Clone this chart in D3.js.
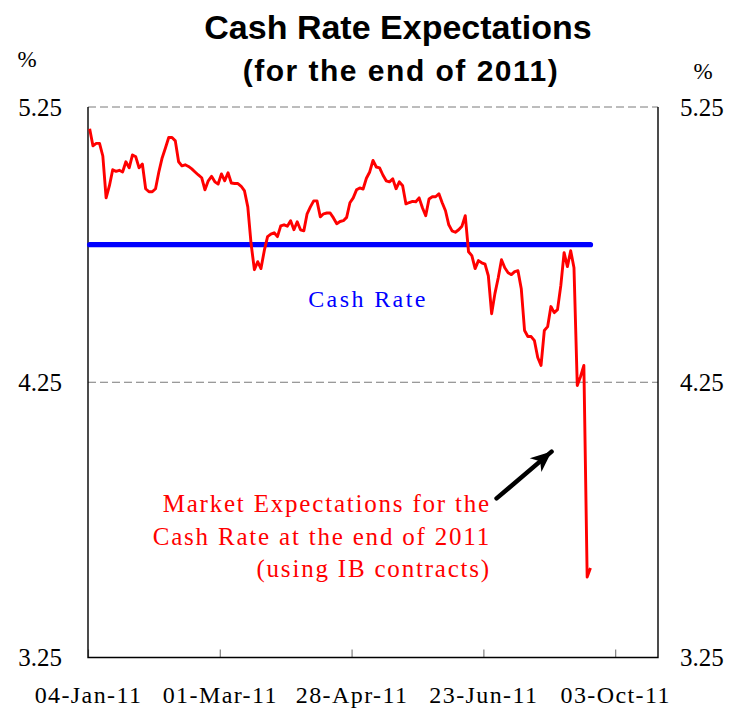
<!DOCTYPE html>
<html>
<head>
<meta charset="utf-8">
<script src="https://cdn.jsdelivr.net/npm/d3@7/dist/d3.min.js"></script>
<style>
    body { margin: 0; background: #fff; }
    svg { display: block; }
</style>
</head>
<body>
<svg></svg>
<script>
// trading-day category axis
const dayLabels = ["04-Jan-11", "01-Mar-11", "28-Apr-11", "23-Jun-11", "03-Oct-11"];
const labelDays = [0, 40, 80, 120, 160];
const totalDays = 173;

// market expectations for the cash rate at end-2011 (%), one value per trading day
const expectations = [
    5.171, 5.109, 5.118, 5.118, 5.072, 4.920, 4.964, 5.022, 5.016, 5.020,
    5.014, 5.051, 5.029, 5.076, 5.069, 5.029, 5.043, 4.953, 4.942, 4.942,
    4.953, 5.014, 5.065, 5.101, 5.139, 5.139, 5.127, 5.051, 5.036, 5.040,
    5.034, 5.025, 5.014, 5.003, 4.993, 4.949, 4.982, 4.998, 4.978, 4.970,
    5.007, 4.982, 5.011, 4.974, 4.972, 4.972, 4.962, 4.945, 4.887, 4.753,
    4.659, 4.688, 4.663, 4.728, 4.779, 4.788, 4.793, 4.779, 4.818, 4.822,
    4.817, 4.837, 4.804, 4.833, 4.804, 4.800, 4.862, 4.887, 4.909, 4.909,
    4.851, 4.862, 4.865, 4.865, 4.847, 4.826, 4.834, 4.837, 4.849, 4.902,
    4.920, 4.949, 4.956, 4.952, 4.991, 5.014, 5.056, 5.032, 5.029, 5.003,
    4.982, 4.978, 4.989, 4.953, 4.978, 4.964, 4.898, 4.903, 4.907, 4.906,
    4.920, 4.884, 4.855, 4.916, 4.924, 4.924, 4.935, 4.902, 4.873, 4.822,
    4.800, 4.795, 4.804, 4.817, 4.855, 4.724, 4.710, 4.663, 4.692, 4.684,
    4.679, 4.637, 4.499, 4.572, 4.629, 4.695, 4.666, 4.648, 4.641, 4.652,
    4.655, 4.590, 4.438, 4.416, 4.416, 4.401, 4.340, 4.311, 4.438, 4.452,
    4.525, 4.503, 4.514, 4.601, 4.721, 4.670, 4.728, 4.666, 4.238, 4.271,
    4.311, 3.542, 3.575
];
const cashRate = 4.75;
const yTicks = [3.25, 4.25, 5.25];
const gridValues = [4.25, 5.25];

const svgWidth = 731;
const svgHeight = 710;
const plot = { left: 88, right: 658, top: 107, bottom: 657.5 };
const serif = "'Liberation Serif', 'Times New Roman', serif";
const sans = "'Liberation Sans', Arial, sans-serif";

let svg = d3.select("svg")
    .attr("width", svgWidth)
    .attr("height", svgHeight);

let xScale = d3.scaleLinear().domain([0, totalDays]).range([plot.left, plot.right]);
let yScale = d3.scaleLinear().domain([3.25, 5.25]).range([plot.bottom, plot.top]);
const dayX = (i) => xScale(i + 0.5);

//title
svg.append("text")
    .attr("x", 398).attr("y", 39)
    .attr("text-anchor", "middle")
    .attr("font-family", sans).attr("font-weight", "bold").attr("font-size", 34)
    .text("Cash Rate Expectations");

svg.append("text")
    .attr("x", 401).attr("y", 81)
    .attr("text-anchor", "middle")
    .attr("font-family", sans).attr("font-weight", "bold").attr("font-size", 30)
    .attr("letter-spacing", 1.5)
    .text("(for the end of 2011)");

//units
svg.append("text").attr("x", 27).attr("y", 67).attr("text-anchor", "middle")
    .attr("font-family", serif).attr("font-size", 23).text("%");
svg.append("text").attr("x", 703).attr("y", 79).attr("text-anchor", "middle")
    .attr("font-family", serif).attr("font-size", 23).text("%");

//gridlines
svg.append("g").selectAll("line")
    .data(gridValues)
    .enter()
    .append("line")
    .attr("x1", plot.left).attr("x2", plot.right)
    .attr("y1", (d) => yScale(d)).attr("y2", (d) => yScale(d))
    .attr("stroke", "#7a7a7a")
    .attr("stroke-width", 1)
    .attr("stroke-dasharray", "8,4");

//y axes
let yAxisLeft = d3.axisLeft(yScale).tickValues(yTicks).tickSize(0).tickPadding(26).tickFormat(d3.format(".2f"));
let yAxisRight = d3.axisRight(yScale).tickValues(yTicks).tickSize(0).tickPadding(22).tickFormat(d3.format(".2f"));

svg.append("g").attr("transform", `translate(${plot.left}, 0)`).call(yAxisLeft);
svg.append("g").attr("transform", `translate(${plot.right}, 0)`).call(yAxisRight);

svg.selectAll("g .domain").remove();
svg.selectAll("g .tick text")
    .attr("font-family", serif)
    .attr("font-size", 25)
    .attr("fill", "#000")
    .attr("dy", "0.33em");

//x axis
let xAxis = d3.axisBottom(xScale)
    .tickValues(labelDays)
    .tickSizeInner(-8)
    .tickSizeOuter(0)
    .tickFormat((d, i) => dayLabels[i]);

let xAxisG = svg.append("g")
    .attr("transform", `translate(0, ${plot.bottom})`)
    .call(xAxis);
xAxisG.select(".domain").remove();
xAxisG.selectAll(".tick line").attr("stroke", "#808080").attr("stroke-width", 1.2);
xAxisG.selectAll(".tick text")
    .attr("y", 45)
    .attr("dy", 0)
    .attr("font-family", serif)
    .attr("font-size", 24)
    .attr("letter-spacing", 1.4)
    .attr("fill", "#000");

//frame: left, right, bottom
svg.append("path")
    .attr("d", `M${plot.left},${plot.top}V${plot.bottom}H${plot.right}V${plot.top}`)
    .attr("fill", "none")
    .attr("stroke", "#000")
    .attr("stroke-width", 1.4);

//cash rate
let lastDay = expectations.length - 1;
svg.append("line")
    .attr("x1", dayX(0)).attr("x2", dayX(lastDay))
    .attr("y1", yScale(cashRate)).attr("y2", yScale(cashRate))
    .attr("stroke", "#0000ff")
    .attr("stroke-width", 5.3)
    .attr("stroke-linecap", "round");

svg.append("text")
    .attr("x", 368).attr("y", 307)
    .attr("text-anchor", "middle")
    .attr("font-family", serif).attr("font-size", 24)
    .attr("letter-spacing", 2.4)
    .attr("fill", "#0000ff")
    .text("Cash Rate");

//expectations line
let line = d3.line()
    .x((d, i) => dayX(i))
    .y((d) => yScale(d));

svg.append("path")
    .datum(expectations)
    .attr("d", line)
    .attr("fill", "none")
    .attr("stroke", "#ff0000")
    .attr("stroke-width", 2.9)
    .attr("stroke-linejoin", "round");

//annotation
let defs = svg.append("defs");
defs.append("marker")
    .attr("id", "arrowhead")
    .attr("viewBox", "-22 -11 24 22")
    .attr("refX", 0).attr("refY", 0)
    .attr("markerUnits", "userSpaceOnUse")
    .attr("markerWidth", 24).attr("markerHeight", 22)
    .attr("orient", "auto")
    .append("path")
    .attr("d", "M0,0 L-21,-9 L-15,0 L-21,9 Z")
    .attr("fill", "#000");

svg.append("line")
    .attr("x1", dayX(123.5)).attr("y1", yScale(3.828))
    .attr("x2", dayX(140.2)).attr("y2", yScale(3.998))
    .attr("stroke", "#000")
    .attr("stroke-width", 4.5)
    .attr("stroke-linecap", "round")
    .attr("marker-end", "url(#arrowhead)");

const noteLines = ["Market Expectations for the", "Cash Rate at the end of 2011", "(using IB contracts)"];
svg.append("g").selectAll("text")
    .data(noteLines)
    .enter()
    .append("text")
    .attr("x", 491)
    .attr("y", (d, i) => 512 + i * 32.5)
    .attr("text-anchor", "end")
    .attr("font-family", serif)
    .attr("font-size", 25)
    .attr("letter-spacing", 1.8)
    .attr("fill", "#ff0000")
    .text((d) => d);
</script>
</body>
</html>
